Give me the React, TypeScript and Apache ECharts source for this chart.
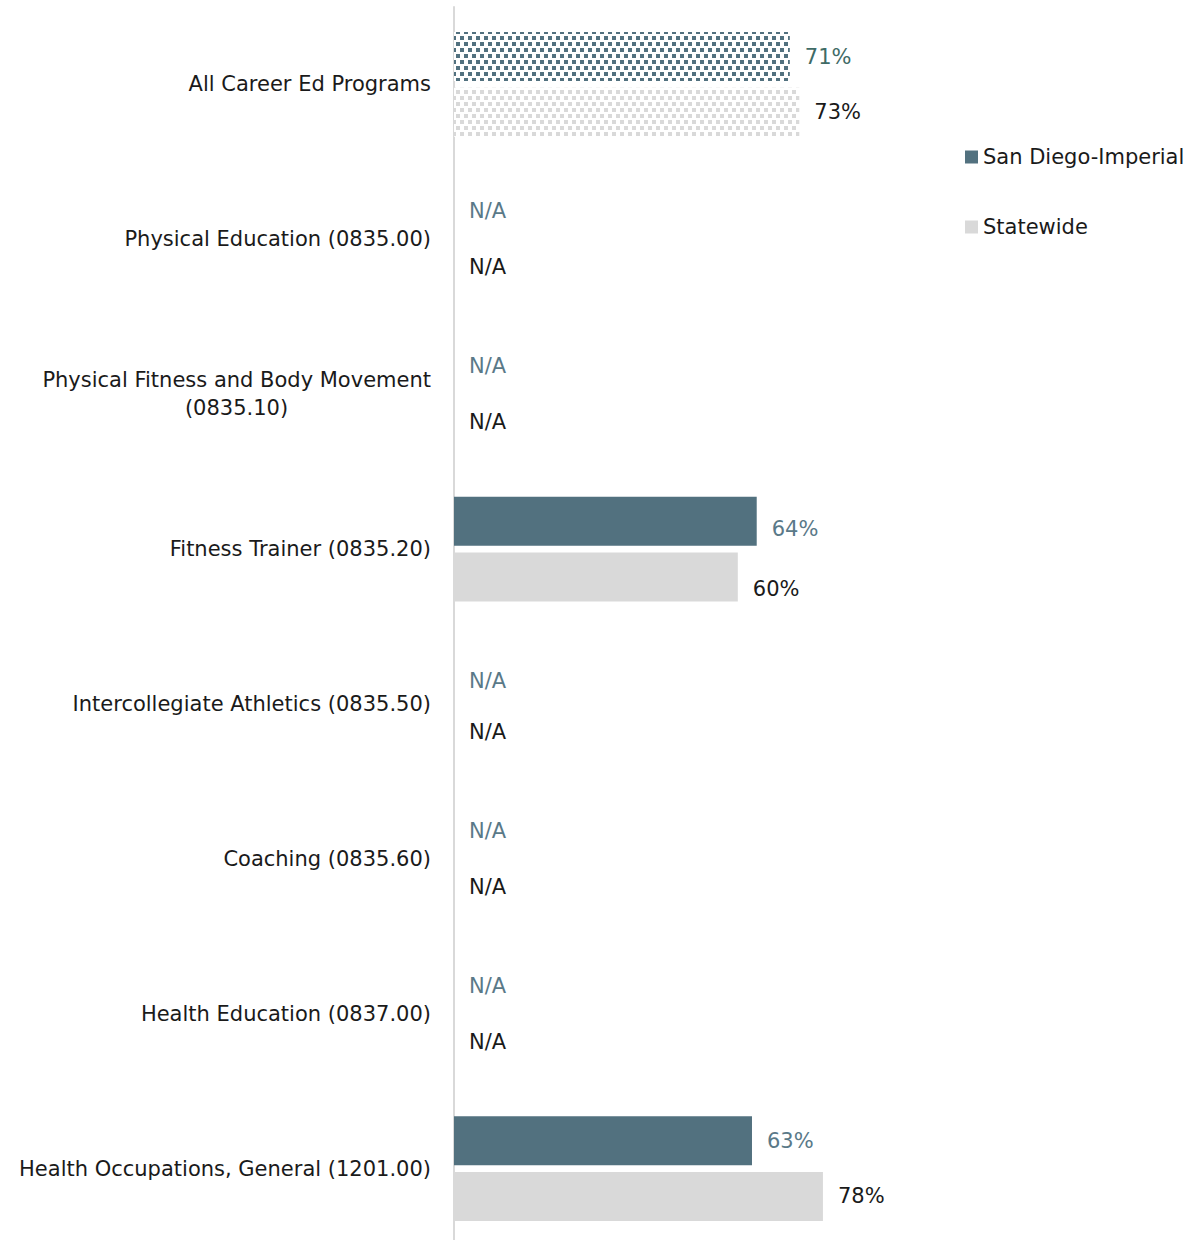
import React, { useEffect, useRef } from "react";
import * as echarts from "echarts";

const categories = [
  "All Career Ed Programs",
  "Physical Education (0835.00)",
  "Physical Fitness and Body Movement\n(0835.10)",
  "Fitness Trainer (0835.20)",
  "Intercollegiate Athletics (0835.50)",
  "Coaching (0835.60)",
  "Health Education (0837.00)",
  "Health Occupations, General (1201.00)",
];
const seriesNames = ["San Diego-Imperial", "Statewide"];
const sanDiegoValues: (number | null)[] = [71, null, null, 64, null, null, null, 63];
const statewideValues: (number | null)[] = [73, null, null, 60, null, null, null, 78];

const SD_COLOR = "#52717F";
const SW_COLOR = "#D9D9D9";
const FONT = "'DejaVu Sans', sans-serif";
const FONT_SIZE = 21;

// small vertical nudges of individual value labels (style only)
const sdLabelNudge: Record<number, number> = { 3: 8, 4: 5 };
const swLabelNudge: Record<number, number> = { 3: 12 };

function buildData(
  vals: (number | null)[],
  patternColor: string,
  nudge: Record<number, number>,
  firstLabelColor?: string
) {
  return vals.map((v, i) => {
    const item: any = { value: v == null ? 0 : v, na: v == null };
    if (i === 0) {
      item.itemStyle = {
        color: "#ffffff",
        decal: {
          symbol: "rect",
          symbolSize: 1,
          color: patternColor,
          dashArrayX: [
            [4, 4],
            [0, 4, 4, 0],
          ],
          dashArrayY: [4, 1.5],
        },
      };
      if (firstLabelColor) item.label = { color: firstLabelColor };
    }
    if (nudge[i]) {
      item.label = Object.assign({}, item.label || {}, { offset: [0, nudge[i]] });
    }
    return item;
  });
}

function measure(text: string, size: number) {
  const c = document.createElement("canvas");
  const ctx = c.getContext("2d");
  if (!ctx) return 380;
  ctx.font = size + "px " + FONT;
  return Math.ceil(ctx.measureText(text).width);
}

export default function App() {
  const ref = useRef<HTMLDivElement>(null);
  useEffect(() => {
    document.body.style.margin = "0";
    document.body.style.overflow = "hidden";
    document.documentElement.style.overflow = "hidden";
    if (!ref.current) return;
    const chart = echarts.init(ref.current, null, { renderer: "svg" });
    const labelFmt = (p: any) => (p.data && p.data.na ? "N/A" : p.value + "%");
    const longLine = categories.find((c) => c.indexOf("\n") >= 0) || "";
    const longWidth = measure(longLine.split("\n")[0], FONT_SIZE);
    chart.setOption({
      animation: false,
      backgroundColor: "#ffffff",
      textStyle: { fontFamily: FONT },
      legend: {
        orient: "vertical",
        left: 965,
        top: 146,
        padding: 0,
        itemWidth: 13,
        itemHeight: 13,
        itemGap: 48,
        icon: "rect",
        data: seriesNames,
        textStyle: { fontSize: 21, color: "#1a1a1a", fontFamily: FONT, lineHeight: 22 },
      },
      grid: { left: 454, top: 7, width: 473, height: 1239, containLabel: false },
      xAxis: {
        type: "value",
        min: 0,
        max: 100,
        show: false,
        splitLine: { show: false },
      },
      yAxis: {
        type: "category",
        inverse: true,
        data: categories,
        axisLine: { show: true, lineStyle: { color: "#D9D9D9", width: 2 } },
        axisTick: { show: false },
        axisLabel: {
          margin: 23,
          fontSize: FONT_SIZE,
          color: "#1a1a1a",
          fontFamily: FONT,
          lineHeight: 28,
          formatter: (v: string) => {
            if (v.indexOf("\n") >= 0) {
              const parts = v.split("\n");
              return "{a|" + parts[0] + "}\n{c|" + parts[1] + "}";
            }
            return v;
          },
          rich: {
            a: { fontSize: FONT_SIZE, color: "#1a1a1a", fontFamily: FONT, lineHeight: 28 },
            c: {
              fontSize: FONT_SIZE,
              color: "#1a1a1a",
              fontFamily: FONT,
              lineHeight: 28,
              width: longWidth,
              align: "center",
            },
          },
        },
      },
      series: [
        {
          name: seriesNames[0],
          type: "bar",
          data: buildData(sanDiegoValues, SD_COLOR, sdLabelNudge, "#3F6B66"),
          barWidth: 49,
          barGap: "14%",
          itemStyle: { color: SD_COLOR },
          label: {
            show: true,
            position: "right",
            distance: 15,
            fontSize: FONT_SIZE,
            fontFamily: FONT,
            color: "#5A7988",
            formatter: labelFmt,
          },
        },
        {
          name: seriesNames[1],
          type: "bar",
          data: buildData(statewideValues, SW_COLOR, swLabelNudge),
          barWidth: 49,
          barGap: "14%",
          itemStyle: { color: SW_COLOR },
          label: {
            show: true,
            position: "right",
            distance: 15,
            fontSize: FONT_SIZE,
            fontFamily: FONT,
            color: "#1a1a1a",
            formatter: labelFmt,
          },
        },
      ],
    });
    return () => chart.dispose();
  }, []);
  return <div ref={ref} style={{ width: 1196, height: 1260 }} />;
}
